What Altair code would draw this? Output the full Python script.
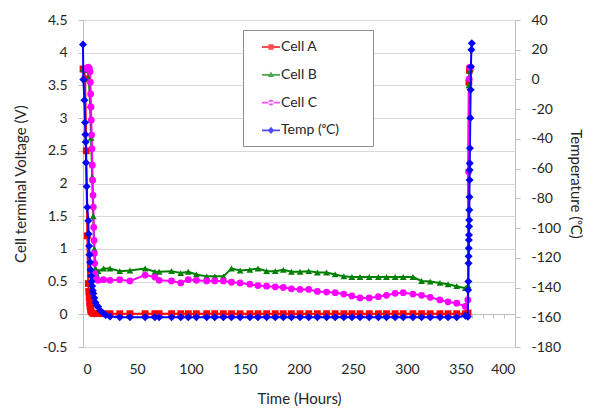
import altair as alt
import pandas as pd

# ---------------- data ----------------
series_names = ["Cell A", "Cell B", "Cell C", "Temp (ᵒC)"]
series_colors = ["#FF0000", "#008000", "#FF00FF", "#0000FF"]

time_ticks = [0, 50, 100, 150, 200, 250, 300, 350, 400]
minor_time_ticks = list(range(0, 401, 10))
volt_ticks = [-0.5, 0, 0.5, 1, 1.5, 2, 2.5, 3, 3.5, 4, 4.5]
temp_ticks = [-180, -160, -140, -120, -100, -80, -60, -40, -20, 0, 20, 40]

# shared logging times (hours) for the long flat part
mid_times = [14, 19, 25, 34, 43.5, 57.5, 66.5, 70.5, 82, 90.5, 97.5, 105, 114.5,
             122, 130, 137.5, 145.5, 154.5, 162, 170, 178, 185.5, 193, 201, 209,
             217, 225.5, 233.5, 241.5, 249, 256.5, 265, 273.5, 281, 289, 296.5,
             305.5, 313.5, 321.5, 330.5, 338, 346, 354]

# Cell A
time_a = [0, 1, 2, 3, 4, 4.9, 5.3, 5.7, 6.1, 6.5, 7, 7.5, 8.5, 10] + mid_times + \
         [356.5, 357.3, 357.8, 358.3]
volt_a = [3.75, 3.75, 3.6, 2.5, 1.2, 0.47, 0.35, 0.26, 0.18, 0.12, 0.07, 0.04, 0.02, 0.01] + \
         [0.01, 0.01, 0.01, 0.01, 0.01, 0.01, 0.01, 0.01, 0.01, 0.01, 0.01, 0.01, 0.01,
          0.01, 0.01, 0.01, 0.01, 0.01, 0.01, 0.01, 0.01, 0.01, 0.01, 0.01, 0.01,
          0.01, 0.01, 0.01, 0.01, 0.01, 0.01, 0.01, 0.01, 0.01, 0.01, 0.01,
          0.01, 0.01, 0.01, 0.01, 0.01, 0.01, 0.01] + \
         [0.02, 3.55, 3.74, 3.76]

# Cell B
time_b = [0, 2, 4, 5.5, 6.5, 7.5, 8.5, 9.5, 10.5, 11.5, 12.5] + mid_times + \
         [356.5, 357.3, 357.8, 358.3]
volt_b = [3.75, 3.75, 3.74, 3.6, 3.2, 2.7, 2.1, 1.5, 1.0, 0.7, 0.62] + \
         [0.66, 0.70, 0.70, 0.66, 0.67, 0.70, 0.65, 0.65, 0.66, 0.63, 0.65, 0.61, 0.58,
          0.58, 0.58, 0.70, 0.67, 0.68, 0.70, 0.66, 0.66, 0.68, 0.65, 0.65, 0.66,
          0.64, 0.64, 0.61, 0.58, 0.57, 0.57, 0.57, 0.57, 0.57, 0.57, 0.57,
          0.57, 0.51, 0.50, 0.48, 0.46, 0.43, 0.40] + \
         [0.44, 3.5, 3.72, 3.75]

# Cell C
time_c = [2.8, 4.9, 5.9, 6.5, 6.8, 7.1, 7.4, 7.7, 8.0, 8.3, 8.6, 8.9, 9.3, 9.6, 9.9,
          10.2, 10.5, 10.8, 11.1, 12] + mid_times + [356.3, 357, 357.6, 358.2, 358.6]
volt_c = [3.76, 3.78, 3.76, 3.71, 3.55, 3.37, 3.17, 2.97, 2.74, 2.53, 2.28, 2.05, 1.82,
          1.64, 1.33, 1.13, 0.93, 0.78, 0.62, 0.54] + \
         [0.52, 0.53, 0.52, 0.53, 0.51, 0.60, 0.57, 0.52, 0.51, 0.48, 0.53, 0.52, 0.51,
          0.51, 0.51, 0.49, 0.48, 0.46, 0.44, 0.43, 0.42, 0.41, 0.39, 0.38, 0.38,
          0.35, 0.34, 0.33, 0.31, 0.28, 0.25, 0.25, 0.27, 0.29, 0.32, 0.33,
          0.31, 0.29, 0.26, 0.22, 0.19, 0.17, 0.12] + \
         [0.22, 2.18, 3.6, 3.77, 3.78]

# Temperature (right axis)
temp_time = [0, 0.3, 1.3, 1.9, 2.2, 2.5, 2.8, 3.4, 4.0, 4.9, 5.2, 5.6, 6.0, 6.5, 7.0,
             7.5, 8.0, 8.5, 9.0, 9.6, 10.5, 11.5, 12.5, 14, 16, 19, 21, 25,
             34, 43.5, 57.5, 66.5, 70.5, 82, 90.5, 97.5, 105, 114.5, 122, 130, 137.5,
             145.5, 154.5, 162, 170, 178, 185.5, 193, 201, 209, 217, 225.5, 233.5,
             241.5, 249, 256.5, 265, 273.5, 281, 289, 296.5, 305.5, 313.5, 321.5,
             330.5, 338, 346, 354,
             356.3, 356.6, 356.8, 357.0, 357.1, 357.2, 357.3, 357.4, 357.5, 357.6,
             357.7, 357.8, 357.9, 358.0, 358.1, 358.3, 358.6, 358.9, 359.2, 359.6, 360.0]
temp_vals = [23.5, 0, -14, -29, -37, -42, -56, -72, -86, -95, -104, -112, -118, -123,
             -128, -132, -136, -139, -142, -144, -147, -150, -152, -153, -155.5,
             -157.5, -158.5, -159.5,
             -160, -160, -160, -160, -160, -160, -160, -160, -160, -160, -160, -160,
             -160, -160, -160, -160, -160, -160, -160, -160, -160, -160, -160, -160,
             -160, -160, -160, -160, -160, -160, -160, -160, -160, -160, -160, -160,
             -160, -160, -160, -159,
             -159.6, -141.7, -136, -123.7, -119, -113.6, -108, -104.7, -99, -94.6,
             -87.8, -79, -67.6, -61, -56.4, -46.3, -26, -7, 8.6, 20, 24.3]

# ---------------- tables ----------------
rows = []
for name, ts, vs in [("Cell A", time_a, volt_a), ("Cell B", time_b, volt_b),
                     ("Cell C", time_c, volt_c)]:
    for i, (t, v) in enumerate(zip(ts, vs)):
        rows.append({"series": name, "t": t, "v": v, "i": i})
volt_df = pd.DataFrame(rows)
temp_df = pd.DataFrame({"series": series_names[3], "t": temp_time, "temp": temp_vals,
                        "i": list(range(len(temp_time)))})

# ---------------- styling ----------------
FONT = "Lato"
TEXT = "#262626"
AXIS_GRAY = "#bfbfbf"
GRID_GRAY = "#d9d9d9"

x_scale = alt.Scale(domain=[0, 400], nice=False, zero=False)
color_scale = alt.Scale(domain=series_names, range=series_colors)
shape_scale = alt.Scale(domain=series_names,
                        range=["square", "triangle-up", "circle", "diamond"])

x_main = alt.X("t:Q", scale=x_scale, axis=alt.Axis(
    values=time_ticks, title="Time (Hours)", grid=False, ticks=False, domain=False,
    labelPadding=15, titlePadding=15, labelFont=FONT, labelFontSize=14,
    labelColor=TEXT, titleFont=FONT, titleFontSize=15, titleFontWeight="normal",
    titleColor=TEXT, labelExpr="'' + datum.value"))
x_minor = alt.X("t:Q", scale=x_scale, axis=alt.Axis(
    orient="bottom", offset=-33, values=minor_time_ticks, labels=False, grid=False,
    ticks=True, tickSize=4, tickColor=AXIS_GRAY, domain=True, domainColor=AXIS_GRAY,
    title=None))

y_volt = alt.Y("v:Q", scale=alt.Scale(domain=[-0.5, 4.5], nice=False, zero=False),
               axis=alt.Axis(orient="left", values=volt_ticks,
                             title="Cell terminal Voltage (V)", grid=True,
                             gridColor=GRID_GRAY, domainColor=AXIS_GRAY,
                             tickColor=AXIS_GRAY, tickSize=5, labelPadding=11,
                             titlePadding=14, labelFont=FONT, labelFontSize=14,
                             labelColor=TEXT, titleFont=FONT, titleFontSize=15,
                             titleFontWeight="normal", titleColor=TEXT,
                             labelExpr="'' + datum.value"))
y_temp = alt.Y("temp:Q", scale=alt.Scale(domain=[-180, 40], nice=False, zero=False),
               axis=alt.Axis(orient="right", values=temp_ticks,
                             title="Temperature (ᵒC)", grid=False,
                             domainColor=AXIS_GRAY, tickColor=AXIS_GRAY, tickSize=5,
                             labelPadding=11, titlePadding=7, labelFont=FONT,
                             labelFontSize=14, labelColor=TEXT, titleFont=FONT,
                             titleFontSize=15, titleFontWeight="normal",
                             titleColor=TEXT, labelExpr="'' + datum.value"))

color_enc = alt.Color("series:N", scale=color_scale, legend=None)
shape_enc = alt.Shape("series:N", scale=shape_scale, legend=None)

volt_line = alt.Chart(volt_df).mark_line(strokeWidth=2).encode(
    x=x_main, y=y_volt, color=color_enc, order="i:Q")
volt_pts = alt.Chart(volt_df).mark_point(filled=True, size=46, opacity=1).encode(
    x=x_main, y=y_volt, color=color_enc, shape=shape_enc)
temp_line = alt.Chart(temp_df).mark_line(strokeWidth=2).encode(
    x=x_minor, y=y_temp, color=color_enc, order="i:Q")
temp_pts = alt.Chart(temp_df).mark_point(filled=True, size=64, opacity=1).encode(
    x=x_minor, y=y_temp, color=color_enc, shape=shape_enc)

volt_layer = alt.layer(volt_line, volt_pts)
temp_layer = alt.layer(temp_line, temp_pts)
main = alt.layer(volt_layer, temp_layer).resolve_scale(y="independent").resolve_axis(
    x="independent")

# legend: line + marker symbols
legend_paths = [
    "M-1,-0.1H1V0.1H-1Z M-0.3,-0.3H0.3V0.3H-0.3Z",
    "M-1,-0.1H1V0.1H-1Z M0,-0.36L0.34,0.24H-0.34Z",
    "M-1,-0.1H1V0.1H-1Z M-0.33,0A0.33,0.33 0 1,0 0.33,0A0.33,0.33 0 1,0 -0.33,0Z",
    "M-1,-0.1H1V0.1H-1Z M0,-0.4L0.36,0L0,0.4L-0.36,0Z",
]
legend_def = alt.Legend(
    orient="none", legendX=160, legendY=10, title=None, padding=8,
    strokeColor="#8c8c8c", fillColor="white", symbolSize=324,
    symbolStrokeWidth=0, symbolOffset=11, labelOffset=1, rowPadding=11.8,
    labelFont=FONT, labelFontSize=14, labelColor=TEXT,
    labelExpr="datum.label + '\u00a0\u00a0\u00a0\u00a0\u00a0\u00a0\u00a0\u200b'")
legend_layer = alt.Chart(volt_df).transform_filter("false").mark_point(
    filled=True).encode(
    color=alt.Color("series:N", scale=color_scale, legend=legend_def),
    shape=alt.Shape("series:N", scale=alt.Scale(domain=series_names, range=legend_paths),
                    legend=legend_def),
)

chart = alt.layer(main, legend_layer).resolve_scale(
    color="independent", shape="independent"
).properties(
    width=432, height=327,
    autosize=alt.AutoSizeParams(type="none"),
    padding={"left": 75, "top": 12, "right": 72, "bottom": 61},
    background="white",
).configure_view(strokeWidth=0)

chart.save("out.html", embed_options={"renderer": "svg", "actions": False})
